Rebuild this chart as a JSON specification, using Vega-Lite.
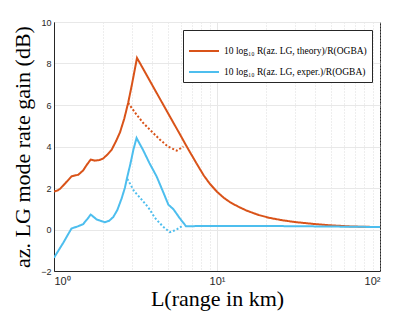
{
  "$schema": "https://vega.github.io/schema/vega-lite/v6.json",
  "autosize": {"type": "none"},
  "padding": {"left": 54, "top": 22, "right": 40, "bottom": 44},
  "width": 326,
  "height": 249,
  "background": "white",
  "config": {
    "view": {"stroke": "#262626", "strokeWidth": 1},
    "axis": {
      "labelFont": "Liberation Sans",
      "labelFontSize": 9,
      "labelColor": "#262626",
      "domainColor": "#262626",
      "tickColor": "#262626",
      "titleFont": "Liberation Serif",
      "titleFontWeight": "normal",
      "titleColor": "#000000",
      "titleFontSize": 22
    }
  },
  "data": {
    "values": [
      {"L": 1.00, "v": 1.83, "curve": "theory", "style": "solid"},
      {"L": 1.05, "v": 1.88, "curve": "theory", "style": "solid"},
      {"L": 1.09, "v": 1.96, "curve": "theory", "style": "solid"},
      {"L": 1.18, "v": 2.25, "curve": "theory", "style": "solid"},
      {"L": 1.28, "v": 2.56, "curve": "theory", "style": "solid"},
      {"L": 1.41, "v": 2.64, "curve": "theory", "style": "solid"},
      {"L": 1.51, "v": 2.85, "curve": "theory", "style": "solid"},
      {"L": 1.60, "v": 3.15, "curve": "theory", "style": "solid"},
      {"L": 1.68, "v": 3.37, "curve": "theory", "style": "solid"},
      {"L": 1.78, "v": 3.32, "curve": "theory", "style": "solid"},
      {"L": 1.90, "v": 3.35, "curve": "theory", "style": "solid"},
      {"L": 2.00, "v": 3.42, "curve": "theory", "style": "solid"},
      {"L": 2.12, "v": 3.6, "curve": "theory", "style": "solid"},
      {"L": 2.26, "v": 3.85, "curve": "theory", "style": "solid"},
      {"L": 2.40, "v": 4.25, "curve": "theory", "style": "solid"},
      {"L": 2.54, "v": 4.68, "curve": "theory", "style": "solid"},
      {"L": 2.70, "v": 5.35, "curve": "theory", "style": "solid"},
      {"L": 2.85, "v": 6.1, "curve": "theory", "style": "solid"},
      {"L": 3.00, "v": 6.95, "curve": "theory", "style": "solid"},
      {"L": 3.12, "v": 7.65, "curve": "theory", "style": "solid"},
      {"L": 3.23, "v": 8.27, "curve": "theory", "style": "solid"},
      {"L": 3.45, "v": 7.87, "curve": "theory", "style": "solid"},
      {"L": 4.00, "v": 6.97, "curve": "theory", "style": "solid"},
      {"L": 4.69, "v": 6.0, "curve": "theory", "style": "solid"},
      {"L": 5.30, "v": 5.26, "curve": "theory", "style": "solid"},
      {"L": 5.93, "v": 4.58, "curve": "theory", "style": "solid"},
      {"L": 6.40, "v": 4.11, "curve": "theory", "style": "solid"},
      {"L": 7.00, "v": 3.58, "curve": "theory", "style": "solid"},
      {"L": 7.60, "v": 3.1, "curve": "theory", "style": "solid"},
      {"L": 8.30, "v": 2.6, "curve": "theory", "style": "solid"},
      {"L": 9.00, "v": 2.22, "curve": "theory", "style": "solid"},
      {"L": 10.0, "v": 1.82, "curve": "theory", "style": "solid"},
      {"L": 11.0, "v": 1.53, "curve": "theory", "style": "solid"},
      {"L": 12.0, "v": 1.32, "curve": "theory", "style": "solid"},
      {"L": 13.5, "v": 1.1, "curve": "theory", "style": "solid"},
      {"L": 15.2, "v": 0.91, "curve": "theory", "style": "solid"},
      {"L": 18.0, "v": 0.7, "curve": "theory", "style": "solid"},
      {"L": 21.0, "v": 0.56, "curve": "theory", "style": "solid"},
      {"L": 25.0, "v": 0.45, "curve": "theory", "style": "solid"},
      {"L": 30.0, "v": 0.36, "curve": "theory", "style": "solid"},
      {"L": 40.0, "v": 0.26, "curve": "theory", "style": "solid"},
      {"L": 50.0, "v": 0.2, "curve": "theory", "style": "solid"},
      {"L": 65.0, "v": 0.15, "curve": "theory", "style": "solid"},
      {"L": 80.0, "v": 0.13, "curve": "theory", "style": "solid"},
      {"L": 100.0, "v": 0.12, "curve": "theory", "style": "solid"},

      {"L": 2.85, "v": 6.1, "curve": "theory", "style": "dotted"},
      {"L": 3.20, "v": 5.55, "curve": "theory", "style": "dotted"},
      {"L": 3.53, "v": 5.13, "curve": "theory", "style": "dotted"},
      {"L": 4.00, "v": 4.7, "curve": "theory", "style": "dotted"},
      {"L": 4.47, "v": 4.33, "curve": "theory", "style": "dotted"},
      {"L": 5.00, "v": 4.0, "curve": "theory", "style": "dotted"},
      {"L": 5.66, "v": 3.8, "curve": "theory", "style": "dotted"},
      {"L": 6.22, "v": 4.0, "curve": "theory", "style": "dotted"},

      {"L": 1.00, "v": -1.36, "curve": "exper.", "style": "solid"},
      {"L": 1.14, "v": -0.64, "curve": "exper.", "style": "solid"},
      {"L": 1.28, "v": 0.05, "curve": "exper.", "style": "solid"},
      {"L": 1.40, "v": 0.15, "curve": "exper.", "style": "solid"},
      {"L": 1.51, "v": 0.26, "curve": "exper.", "style": "solid"},
      {"L": 1.60, "v": 0.5, "curve": "exper.", "style": "solid"},
      {"L": 1.68, "v": 0.72, "curve": "exper.", "style": "solid"},
      {"L": 1.83, "v": 0.48, "curve": "exper.", "style": "solid"},
      {"L": 2.05, "v": 0.35, "curve": "exper.", "style": "solid"},
      {"L": 2.18, "v": 0.42, "curve": "exper.", "style": "solid"},
      {"L": 2.31, "v": 0.6, "curve": "exper.", "style": "solid"},
      {"L": 2.45, "v": 0.95, "curve": "exper.", "style": "solid"},
      {"L": 2.60, "v": 1.5, "curve": "exper.", "style": "solid"},
      {"L": 2.72, "v": 2.0, "curve": "exper.", "style": "solid"},
      {"L": 2.82, "v": 2.56, "curve": "exper.", "style": "solid"},
      {"L": 2.95, "v": 3.2, "curve": "exper.", "style": "solid"},
      {"L": 3.07, "v": 3.85, "curve": "exper.", "style": "solid"},
      {"L": 3.21, "v": 4.41, "curve": "exper.", "style": "solid"},
      {"L": 3.37, "v": 4.1, "curve": "exper.", "style": "solid"},
      {"L": 3.51, "v": 3.85, "curve": "exper.", "style": "solid"},
      {"L": 3.85, "v": 3.2, "curve": "exper.", "style": "solid"},
      {"L": 4.26, "v": 2.56, "curve": "exper.", "style": "solid"},
      {"L": 4.65, "v": 1.85, "curve": "exper.", "style": "solid"},
      {"L": 5.03, "v": 1.2, "curve": "exper.", "style": "solid"},
      {"L": 5.40, "v": 0.98, "curve": "exper.", "style": "solid"},
      {"L": 5.90, "v": 0.55, "curve": "exper.", "style": "solid"},
      {"L": 6.45, "v": 0.16, "curve": "exper.", "style": "solid"},
      {"L": 10.0, "v": 0.17, "curve": "exper.", "style": "solid"},
      {"L": 20.0, "v": 0.17, "curve": "exper.", "style": "solid"},
      {"L": 40.0, "v": 0.15, "curve": "exper.", "style": "solid"},
      {"L": 100.0, "v": 0.12, "curve": "exper.", "style": "solid"},

      {"L": 2.82, "v": 2.44, "curve": "exper.", "style": "dotted"},
      {"L": 3.10, "v": 1.85, "curve": "exper.", "style": "dotted"},
      {"L": 3.45, "v": 1.44, "curve": "exper.", "style": "dotted"},
      {"L": 3.80, "v": 1.05, "curve": "exper.", "style": "dotted"},
      {"L": 4.16, "v": 0.56, "curve": "exper.", "style": "dotted"},
      {"L": 4.65, "v": 0.15, "curve": "exper.", "style": "dotted"},
      {"L": 5.14, "v": -0.13, "curve": "exper.", "style": "dotted"},
      {"L": 5.60, "v": -0.02, "curve": "exper.", "style": "dotted"},
      {"L": 6.07, "v": 0.15, "curve": "exper.", "style": "dotted"}
    ]
  },
  "mark": {"type": "line", "strokeWidth": 2, "clip": true},
  "encoding": {
    "x": {
      "field": "L",
      "type": "quantitative",
      "scale": {"type": "log", "domain": [1, 100], "nice": false},
      "axis": {
        "title": "L(range in km)",
        "values": [1, 2, 3, 4, 5, 6, 7, 8, 9, 10, 20, 30, 40, 50, 60, 70, 80, 90, 100],
        "labelExpr": "datum.value == 1 ? '10⁰' : datum.value == 10 ? '10¹' : datum.value == 100 ? '10²' : ''",
        "labelFontSize": 11,
        "labelPadding": 4,
        "tickSize": 0,
        "titlePadding": 2,
        "grid": true,
        "gridColor": {"condition": {"test": "datum.value == 10", "value": "#dcdcdc"}, "value": "#d0d0d0"},
        "gridDash": {"condition": {"test": "datum.value == 10", "value": []}, "value": [1, 2]},
        "gridWidth": 0.7
      }
    },
    "y": {
      "field": "v",
      "type": "quantitative",
      "scale": {"domain": [-2, 10], "nice": false, "zero": false},
      "axis": {
        "title": "az. LG mode rate gain (dB)",
        "values": [-2, 0, 2, 4, 6, 8, 10],
        "labelPadding": 3,
        "tickSize": 0,
        "titlePadding": 6,
        "grid": true,
        "gridColor": "#e8e8e8",
        "gridWidth": 1
      }
    },
    "color": {
      "field": "curve",
      "type": "nominal",
      "scale": {"domain": ["theory", "exper."], "range": ["#D95319", "#4DBEEE"]},
      "legend": {
        "title": null,
        "orient": "top-right",
        "offset": 8,
        "fillColor": "white",
        "strokeColor": "#262626",
        "padding": 5,
        "symbolType": "stroke",
        "symbolSize": 900,
        "symbolStrokeWidth": 2,
        "labelFont": "Liberation Serif",
        "labelFontSize": 9.5,
        "labelColor": "#000000",
        "labelLimit": 300,
        "rowPadding": -7,
        "labelExpr": "datum.label == 'theory' ? '10 log₁₀ R(az. LG, theory)/R(OGBA)' : '10 log₁₀ R(az. LG, exper.)/R(OGBA)'"
      }
    },
    "strokeDash": {
      "field": "style",
      "type": "nominal",
      "scale": {"domain": ["solid", "dotted"], "range": [[1, 0], [2, 2]]},
      "legend": null
    },
    "detail": {"field": "style"}
  }
}
